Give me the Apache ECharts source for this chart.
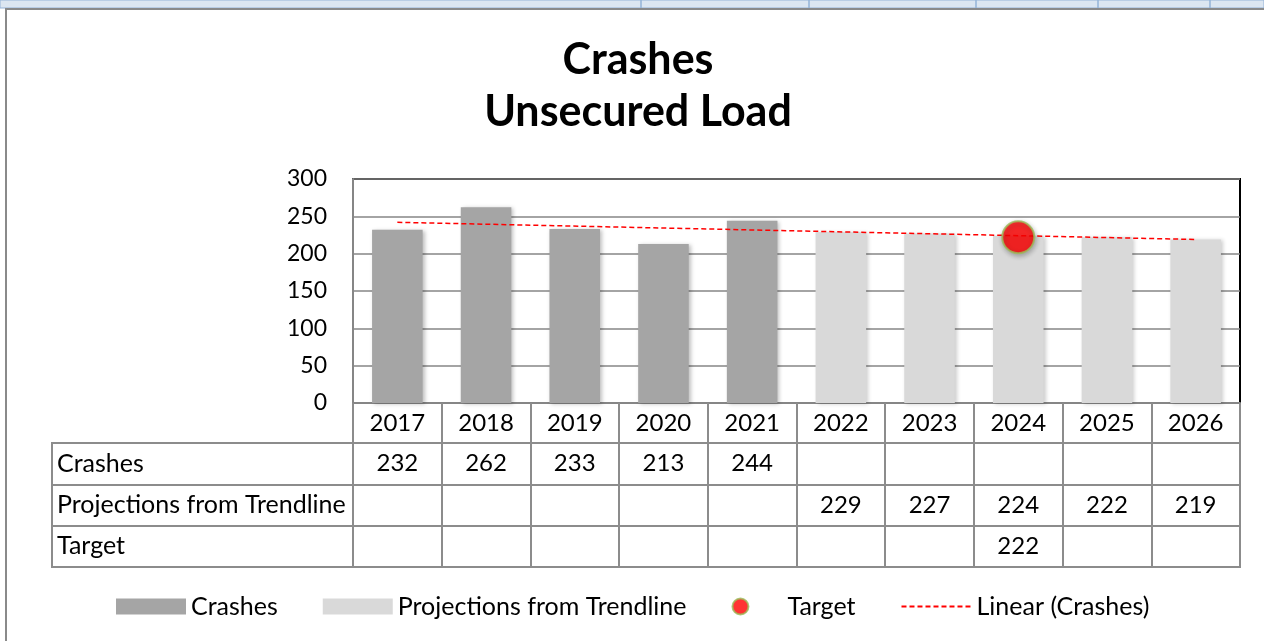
<!DOCTYPE html>
<html>
<head>
<meta charset="utf-8">
<title>Crashes - Unsecured Load</title>
<script src="https://cdn.jsdelivr.net/npm/echarts@6/dist/echarts.min.js"></script>
<style>
  html, body { margin: 0; padding: 0; background: #fff; }
  #chart { width: 1264px; height: 641px; }
</style>
</head>
<body>
<div id="chart"></div>
<script>
  // data
  var years = ['2017', '2018', '2019', '2020', '2021', '2022', '2023', '2024', '2025', '2026']
  var crashes = [232, 262, 233, 213, 244, null, null, null, null, null]
  var projections = [null, null, null, null, null, 229, 227, 224, 222, 219]
  var target = [null, null, null, null, null, null, null, 222, null, null]
  // linear trendline of crashes, only its two ends
  var trendline = [242, null, null, null, null, null, null, null, null, 219]
  var rowNames = ['Crashes', 'Projections from Trendline', 'Target']
  var yTicks = [0, 300, 50]

  var FONT = 'Lato'
  var GRID_LINE = '#868686'
  var TABLE_LINE = '#8c8c8c'

  // cells for the data table, one per value
  var tableRows = [crashes, projections, target]
  var cells = []
  tableRows.forEach(function (row, r) {
    row.forEach(function (v, c) {
      if (v !== null) {
        cells.push([c, r, v])
      }
    })
  })

  var chart = echarts.init(document.getElementById('chart'))

  chart.setOption({
    animation: false,
    textStyle: {fontFamily: FONT},
    graphic: [
      // sheet strip above the chart
      {type: 'rect', z: -10, shape: {x: 0, y: 0, width: 1264, height: 8},
        style: {fill: '#dce6f1', stroke: '#95b3d7', lineWidth: 1}},
      {type: 'line', z: -9, shape: {x1: 641, y1: 0, x2: 641, y2: 8}, style: {stroke: '#95b3d7', lineWidth: 1.5}},
      {type: 'line', z: -9, shape: {x1: 809, y1: 0, x2: 809, y2: 8}, style: {stroke: '#95b3d7', lineWidth: 1.5}},
      {type: 'line', z: -9, shape: {x1: 976, y1: 0, x2: 976, y2: 8}, style: {stroke: '#95b3d7', lineWidth: 1.5}},
      {type: 'line', z: -9, shape: {x1: 1098, y1: 0, x2: 1098, y2: 8}, style: {stroke: '#95b3d7', lineWidth: 1.5}},
      {type: 'line', z: -9, shape: {x1: 1210, y1: 0, x2: 1210, y2: 8}, style: {stroke: '#95b3d7', lineWidth: 1.5}},
      // chart frame
      {type: 'rect', z: -8, shape: {x: 6, y: 9, width: 1300, height: 700},
        style: {fill: '#fff', stroke: '#8a8a8a', lineWidth: 2}}
    ],
    title: {
      text: 'Crashes\nUnsecured Load',
      left: 633,
      textAlign: 'center',
      top: 29,
      textStyle: {
        fontFamily: FONT,
        fontWeight: 'bold',
        fontSize: 43,
        lineHeight: 52,
        color: '#000'
      }
    },
    legend: {
      top: 589,
      left: 111,
      itemWidth: 70,
      itemHeight: 16,
      itemGap: 45,
      textStyle: {
        fontFamily: FONT,
        fontSize: 25,
        color: '#000',
        rich: {
          wide: {fontFamily: FONT, fontSize: 25, color: '#000', padding: [0, 19, 0, 0]}
        }
      },
      formatter: function (name) {
        return name === 'Projections from Trendline' ? '{wide|' + name + '}' : name
      },
      data: [
        {name: 'Crashes', icon: 'rect'},
        {name: 'Projections from Trendline', icon: 'rect'},
        {name: 'Target', textStyle: {padding: [0, 0, 0, 7]}},
        {name: 'Linear (Crashes)', itemStyle: {opacity: 0}}
      ]
    },
    grid: [
      // plot area
      {left: 353, right: 24, top: 179, bottom: 238, show: true, borderColor: '#000', borderWidth: 2, containLabel: false},
      // data table values
      {left: 353, right: 24, top: 443, bottom: 74, show: true, borderColor: TABLE_LINE, borderWidth: 2},
      // data table row names
      {left: 52, width: 301, top: 443, bottom: 74, show: true, borderColor: TABLE_LINE, borderWidth: 2}
    ],
    xAxis: [
      {
        type: 'category',
        gridIndex: 0,
        data: years,
        axisLine: {lineStyle: {color: GRID_LINE, width: 2}},
        axisTick: {show: true, interval: 0, length: 40, inside: false, lineStyle: {color: TABLE_LINE, width: 2}},
        axisLabel: {interval: 0, margin: 8, color: '#000', fontFamily: FONT, fontSize: 24}
      },
      {
        type: 'category',
        gridIndex: 1,
        data: years,
        axisLine: {show: false},
        axisTick: {show: false},
        axisLabel: {show: false},
        splitLine: {show: true, interval: 0, lineStyle: {color: TABLE_LINE, width: 2}}
      },
      {
        type: 'value',
        gridIndex: 2,
        show: false
      }
    ],
    yAxis: [
      {
        type: 'value',
        gridIndex: 0,
        min: yTicks[0],
        max: yTicks[1],
        interval: yTicks[2],
        axisLine: {show: true, lineStyle: {color: GRID_LINE, width: 2}},
        axisTick: {show: false},
        axisLabel: {margin: 26, color: '#000', fontFamily: FONT, fontSize: 23},
        splitLine: {lineStyle: {color: GRID_LINE, width: 1.5}}
      },
      {
        type: 'category',
        gridIndex: 1,
        data: rowNames,
        inverse: true,
        axisLine: {show: false},
        axisTick: {show: false},
        axisLabel: {show: false},
        splitLine: {show: true, interval: 0, lineStyle: {color: TABLE_LINE, width: 2}}
      },
      {
        type: 'category',
        gridIndex: 2,
        data: rowNames,
        inverse: true,
        axisLine: {show: false},
        axisTick: {show: false},
        axisLabel: {inside: true, margin: 5, color: '#000', fontFamily: FONT, fontSize: 25},
        splitLine: {show: true, interval: 0, lineStyle: {color: TABLE_LINE, width: 2}}
      }
    ],
    series: [
      {
        name: 'Crashes',
        type: 'bar',
        xAxisIndex: 0,
        yAxisIndex: 0,
        barWidth: '57%',
        barGap: '-100%',
        itemStyle: {
          color: '#a5a5a5',
          shadowBlur: 4,
          shadowOffsetX: 2,
          shadowOffsetY: 1,
          shadowColor: 'rgba(0,0,0,0.25)'
        },
        data: crashes
      },
      {
        name: 'Projections from Trendline',
        type: 'bar',
        xAxisIndex: 0,
        yAxisIndex: 0,
        barWidth: '57%',
        barGap: '-100%',
        itemStyle: {
          color: '#d9d9d9',
          shadowBlur: 4,
          shadowOffsetX: 2,
          shadowOffsetY: 1,
          shadowColor: 'rgba(0,0,0,0.2)'
        },
        data: projections
      },
      {
        name: 'Linear (Crashes)',
        type: 'line',
        xAxisIndex: 0,
        yAxisIndex: 0,
        symbol: 'none',
        connectNulls: true,
        lineStyle: {color: '#ff0000', width: 1.5, type: [5, 3]},
        itemStyle: {color: '#ff0000'},
        z: 4,
        data: trendline
      },
      {
        name: 'Target',
        type: 'scatter',
        xAxisIndex: 0,
        yAxisIndex: 0,
        symbol: 'circle',
        symbolSize: 32,
        itemStyle: {
          color: '#ff0000',
          borderColor: '#9bbb59',
          borderWidth: 2,
          shadowBlur: 5,
          shadowOffsetX: 1,
          shadowOffsetY: 2,
          shadowColor: 'rgba(0,0,0,0.3)'
        },
        z: 5,
        data: target
      },
      {
        name: 'table',
        type: 'scatter',
        xAxisIndex: 1,
        yAxisIndex: 1,
        symbolSize: 0,
        itemStyle: {color: '#000'},
        label: {
          show: true,
          position: 'inside',
          color: '#000',
          opacity: 1,
          fontFamily: FONT,
          fontSize: 24,
          formatter: function (p) {
            return p.value[2]
          }
        },
        silent: true,
        data: cells
      }
    ]
  })
</script>
</body>
</html>
